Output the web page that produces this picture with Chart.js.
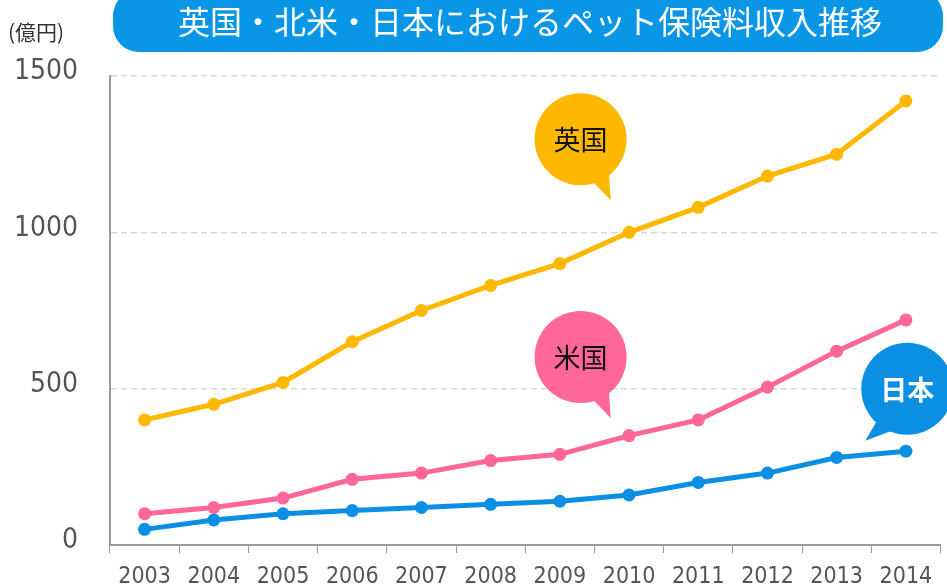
<!DOCTYPE html>
<html>
<head>
<meta charset="utf-8">
<script src="https://cdn.jsdelivr.net/npm/chart.js@4.4.0/dist/chart.umd.min.js"></script>
<style>
  html, body { margin: 0; padding: 0; background: #fff; overflow: hidden; }
  canvas { display: block; }
</style>
</head>
<body>
<canvas id="myChart" width="947" height="588"></canvas>
<script>
const years = ['2003', '2004', '2005', '2006', '2007', '2008', '2009', '2010', '2011', '2012', '2013', '2014'];
const ukValues = [400, 450, 520, 650, 750, 830, 900, 1000, 1080, 1180, 1250, 1420];
const usValues = [100, 120, 150, 210, 230, 270, 290, 350, 400, 505, 620, 720];
const jpValues = [50, 80, 100, 110, 120, 130, 140, 160, 200, 230, 280, 300];
const yTicks = [0, 500, 1000, 1500];

const titleText = '英国・北米・日本におけるペット保険料収入推移';
const unitText = '(億円)';

const UK_COL = '#FFB800';
const US_COL = '#FF6699';
const JP_COL = '#0A8FE2';

// bubble labels, anchored to the scales (x = category index, y = value)
const bubbles = [
  { text: '英国', xi: 6.3, yv: 1298, color: UK_COL, textColor: '#111', bold: false, tail: 'right' },
  { text: '米国', xi: 6.3, yv: 601, color: US_COL, textColor: '#111', bold: false, tail: 'right' },
  { text: '日本', xi: 11.02, yv: 500, color: JP_COL, textColor: '#fff', bold: true, tail: 'left' }
];

const decor = {
  id: 'decor',
  beforeDraw(chart) {
    const c = chart.ctx;
    c.save();
    // title box
    const x0 = 113, x1 = 943, y0 = -10, y1 = 52, r = 26;
    c.fillStyle = '#0A96E6';
    c.beginPath();
    c.moveTo(x0 + r, y0);
    c.lineTo(x1 - r, y0);
    c.arcTo(x1, y0, x1, y0 + r, r);
    c.lineTo(x1, y1 - r);
    c.arcTo(x1, y1, x1 - r, y1, r);
    c.lineTo(x0 + r, y1);
    c.arcTo(x0, y1, x0, y1 - r, r);
    c.lineTo(x0, y0 + r);
    c.arcTo(x0, y0, x0 + r, y0, r);
    c.closePath();
    c.fill();
    c.fillStyle = '#fff';
    c.font = '32px "Noto Sans CJK JP"';
    c.textAlign = 'center';
    c.textBaseline = 'middle';
    c.fillText(titleText, 530, 22);
    // unit label
    c.fillStyle = '#333';
    c.font = '21px "Noto Sans CJK JP"';
    c.textAlign = 'left';
    c.fillText(unitText, 8, 32);
    c.restore();
  },
  afterDatasetsDraw(chart) {
    const c = chart.ctx;
    const xs = chart.scales.x, ys = chart.scales.y;
    const step = xs.getPixelForValue(1) - xs.getPixelForValue(0);
    c.save();
    bubbles.forEach(b => {
      const cx = xs.getPixelForValue(0) + b.xi * step;
      const cy = ys.getPixelForValue(b.yv);
      const rad = 46;
      c.fillStyle = b.color;
      c.beginPath();
      c.arc(cx, cy, rad, 0, Math.PI * 2);
      c.fill();
      c.beginPath();
      if (b.tail === 'right') {
        c.moveTo(cx + 10, cy + 40);
        c.lineTo(cx + 30, cy + 61);
        c.lineTo(cx + 28, cy + 28);
      } else {
        c.moveTo(cx - 28, cy + 28);
        c.lineTo(cx - 42, cy + 52);
        c.lineTo(cx - 10, cy + 40);
      }
      c.closePath();
      c.fill();
      c.fillStyle = b.textColor;
      c.font = (b.bold ? 'bold ' : '') + '27px "Noto Sans CJK JP"';
      c.textAlign = 'center';
      c.textBaseline = 'middle';
      c.fillText(b.text, cx, cy + 1);
    });
    c.restore();
  }
};

const ctx = document.getElementById('myChart').getContext('2d');
const myChart = new Chart(ctx, {
  type: 'line',
  data: {
    labels: years,
    datasets: [{
      label: '英国',
      data: ukValues,
      borderColor: UK_COL,
      backgroundColor: UK_COL,
      borderWidth: 5,
      pointRadius: 6.5,
      pointBorderWidth: 0
    }, {
      label: '米国',
      data: usValues,
      borderColor: US_COL,
      backgroundColor: US_COL,
      borderWidth: 5,
      pointRadius: 6.5,
      pointBorderWidth: 0
    }, {
      label: '日本',
      data: jpValues,
      borderColor: JP_COL,
      backgroundColor: JP_COL,
      borderWidth: 5,
      pointRadius: 6.5,
      pointBorderWidth: 0
    }]
  },
  options: {
    responsive: false,
    animation: false,
    layout: { padding: { top: 76, right: 3, left: 0, bottom: 0 } },
    plugins: {
      legend: { display: false },
      tooltip: { enabled: false }
    },
    scales: {
      x: {
        offset: true,
        afterFit(axis) { axis.height = 43; },
        grid: {
          offset: true,
          drawOnChartArea: false,
          drawTicks: true,
          tickLength: 8,
          color: '#999'
        },
        border: { color: '#999', width: 2 },
        ticks: {
          color: '#555',
          font: { family: '"Liberation Sans Narrow", "DejaVu Sans Condensed", sans-serif', size: 23 },
          padding: 10,
          maxRotation: 0,
          autoSkip: false
        }
      },
      y: {
        min: 0,
        max: 1500,
        afterBuildTicks(axis) { axis.ticks = yTicks.map(v => ({ value: v })); },
        afterFit(axis) { axis.width = 110; },
        grid: {
          color: '#d9d9d9',
          lineWidth: 1.5,
          drawTicks: true,
          tickLength: 30,
          tickColor: 'rgba(0,0,0,0)'
        },
        border: { color: '#999', width: 2, dash: [6, 4] },
        ticks: {
          color: '#555',
          font: { family: '"Liberation Sans Narrow", "DejaVu Sans Condensed", sans-serif', size: 28 },
          padding: 2,
          labelOffset: -4,
          callback: v => String(v)
        }
      }
    }
  },
  plugins: [decor]
});
</script>
</body>
</html>
